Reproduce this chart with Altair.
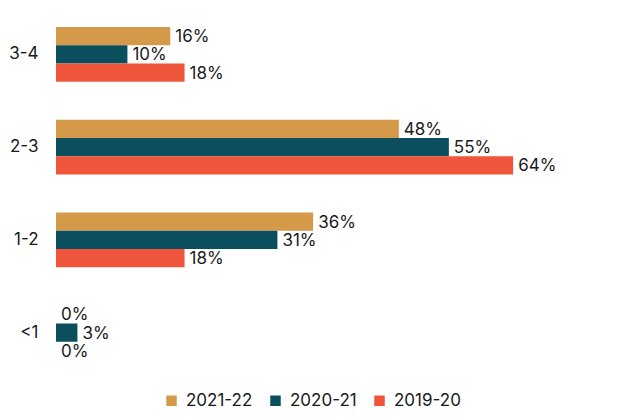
import altair as alt
import pandas as pd

categories = ["3-4", "2-3", "1-2", "<1"]
series = ["2021-22", "2020-21", "2019-20"]
colors = ["#D49A4A", "#0B4F5E", "#EF553B"]
v_2021_22 = [16, 48, 36, 0]
v_2020_21 = [10, 55, 31, 3]
v_2019_20 = [18, 64, 18, 0]

rows = []
for s, vals in zip(series, [v_2021_22, v_2020_21, v_2019_20]):
    for c, v in zip(categories, vals):
        rows.append({"cat": c, "series": s, "value": v, "label": f"{v}%"})
df = pd.DataFrame(rows)

FONT = "Inter"
FS = 17

y = alt.Y("cat:N", sort=categories, title=None,
          scale=alt.Scale(paddingInner=0.41, paddingOuter=0.205),
          axis=alt.Axis(domain=False, ticks=False, labelPadding=18, labelFontSize=FS,
                        labelColor="#1a1a1a", labelFont=FONT))
yo = alt.YOffset("series:N", sort=series)
x = alt.X("value:Q", title=None, scale=alt.Scale(domain=[0, 70]), axis=None)

bars = alt.Chart(df).mark_bar().encode(
    y=y, yOffset=yo, x=x,
    color=alt.Color("series:N", sort=series,
                    scale=alt.Scale(domain=series, range=colors),
                    legend=alt.Legend(orient="none", legendX=107, legendY=384,
                                      direction="horizontal", title=None,
                                      symbolType="square", symbolSize=110, symbolStrokeWidth=0,
                                      labelFontSize=FS, labelFont=FONT, labelColor="#1a1a1a",
                                      labelOffset=6, columnPadding=14)),
)

text = alt.Chart(df).mark_text(align="left", baseline="middle", dx=5, dy=1, fontSize=FS,
                               font=FONT, color="#1a1a1a").encode(
    y=y, yOffset=yo, x=x, text="label:N"
)

chart = (bars + text).properties(
    width=500, height=371,
    padding={"left": 48, "top": 0, "right": 76, "bottom": 41},
    autosize=alt.AutoSizeParams(type="none"),
).configure_view(stroke=None)

chart.save("out.html", embed_options={"renderer": "svg", "actions": False})
